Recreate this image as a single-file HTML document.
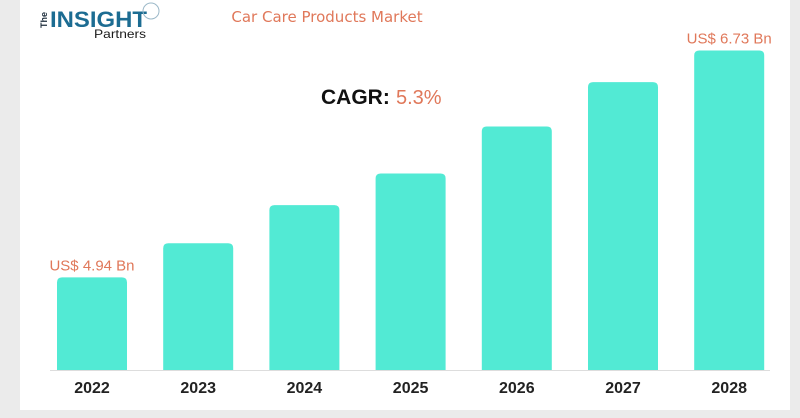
<!DOCTYPE html>
<html><head><meta charset="utf-8"><style>
html,body{margin:0;padding:0;width:800px;height:418px;background:#ebebeb;overflow:hidden;font-family:"Liberation Sans",sans-serif}
#panel{position:absolute;left:20px;top:0;width:770px;height:410px;background:#fff}
svg{position:absolute;left:0;top:0}
</style></head><body>
<div id="panel"></div>
<svg id="chart" width="800" height="418">
  <g>
    <text x="47" y="28" font-size="9" font-weight="bold" fill="#1b2b3a" transform="rotate(-90 47 28)">The</text>
    <text x="50" y="27" font-size="22" font-weight="bold" fill="#1c6c92" textLength="97" lengthAdjust="spacingAndGlyphs">INSIGHT</text>
    <circle cx="151" cy="11" r="8" fill="none" stroke="#9bb8c8" stroke-width="1"/>
    <text x="94" y="38" font-size="12" fill="#1b1b1b" textLength="52" lengthAdjust="spacingAndGlyphs">Partners</text>
  </g>
  <text x="327" y="22" font-size="15" fill="#e0785a" text-anchor="middle" font-family="DejaVu Sans, sans-serif">Car Care Products Market</text>
  <text x="321" y="104" font-size="21" font-weight="bold" fill="#111">CAGR:</text>
  <text x="396" y="104" font-size="20" fill="#e0785a">5.3%</text>
  <line x1="50" y1="370.5" x2="770" y2="370.5" stroke="#ddd" stroke-width="1"/>
  <g id="bars"></g>
</svg>
<script>
const categories=["2022","2023","2024","2025","2026","2027","2028"];
const values=[4.94,5.21,5.51,5.76,6.13,6.48,6.73];
const valueLabels=["US$ 4.94 Bn","","","","","","US$ 6.73 Bn"];
const baseY=370, vMin=4.21, pxPer=126.8;
function yScale(v){return baseY-(v-vMin)*pxPer;}
function xScale(i){return 57+i*106.2;}
const g=document.getElementById('bars');
const NS="http://www.w3.org/2000/svg";
categories.forEach((c,i)=>{
  const x=xScale(i), y=yScale(values[i]), w=70, h=baseY-y;
  const p=document.createElementNS(NS,'path');
  const r=5;
  p.setAttribute('d',`M${x},${baseY}V${y+r}Q${x},${y} ${x+r},${y}H${x+w-r}Q${x+w},${y} ${x+w},${y+r}V${baseY}Z`);
  p.setAttribute('fill','#52ead4');
  
  
  g.appendChild(p);
  const t=document.createElementNS(NS,'text');
  t.setAttribute('x',x+w/2);t.setAttribute('y',393);
  t.setAttribute('text-anchor','middle');t.setAttribute('font-size','16');t.setAttribute('font-weight','bold');t.setAttribute('fill','#222');
  t.textContent=c;
  
  
  g.appendChild(t);
  if(valueLabels[i]){
    const l=document.createElementNS(NS,'text');
    l.setAttribute('x',x+w/2);l.setAttribute('y',y-7);
    l.setAttribute('text-anchor','middle');l.setAttribute('font-size','15');l.setAttribute('fill','#e0785a');
    l.textContent=valueLabels[i];
    
    
    g.appendChild(l);
  }
});
</script>
</body></html>
